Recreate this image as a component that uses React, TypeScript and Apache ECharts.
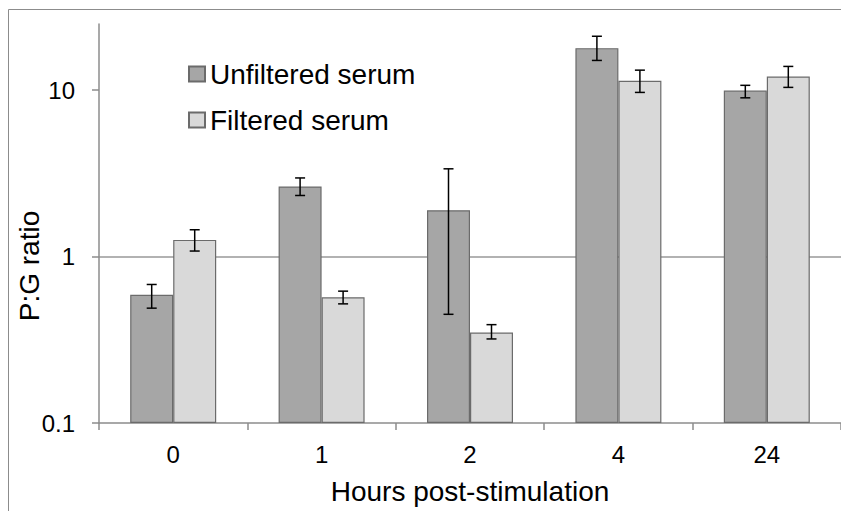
import React, { useEffect, useRef } from "react";
import * as echarts from "echarts";

const categories = ["0", "1", "2", "4", "24"];
const unfiltered = [0.59, 2.64, 1.9, 17.9, 9.95];
const unfilteredHigh = [0.68, 2.97, 3.37, 21.1, 10.7];
const unfilteredLow = [0.49, 2.33, 0.45, 15.1, 9.0];
const filtered = [1.26, 0.57, 0.35, 11.4, 12.1];
const filteredHigh = [1.45, 0.62, 0.39, 13.2, 13.9];
const filteredLow = [1.08, 0.52, 0.32, 9.7, 10.4];
const yTicks = [0.1, 1, 10];

const FONT = "'Liberation Sans', Arial, sans-serif";
const BAR_W = 43;

function errorSeries(name: string, low: number[], high: number[], offset: number) {
  return {
    name,
    type: "custom",
    z: 5,
    silent: true,
    data: categories.map((_, i) => [i, low[i], high[i]]),
    encode: { x: 0, y: [1, 2] },
    renderItem: (params: any, api: any) => {
      const i = api.value(0);
      const lo = api.coord([i, api.value(1)]);
      const hi = api.coord([i, api.value(2)]);
      const x = lo[0] + offset;
      const style = { stroke: "#000", lineWidth: 1.5 };
      return {
        type: "group",
        children: [
          { type: "line", shape: { x1: x, y1: hi[1], x2: x, y2: lo[1] }, style },
          { type: "line", shape: { x1: x - 5, y1: hi[1], x2: x + 5, y2: hi[1] }, style },
          { type: "line", shape: { x1: x - 5, y1: lo[1], x2: x + 5, y2: lo[1] }, style },
        ],
      };
    },
  };
}

export default function App() {
  const ref = useRef<HTMLDivElement>(null);
  useEffect(() => {
    if (!ref.current) return;
    const chart = echarts.init(ref.current, undefined, { renderer: "svg" });
    chart.setOption({
      animation: false,
      backgroundColor: "#fff",
      textStyle: { fontFamily: FONT },
      graphic: [
        {
          type: "rect",
          z: -10,
          shape: { x: 8.5, y: 9.5, width: 1200, height: 1200 },
          style: { fill: "none", stroke: "#8c8c8c", lineWidth: 1 },
        },
        {
          type: "text",
          x: 29,
          y: 266,
          rotation: Math.PI / 2,
          style: {
            text: "P:G ratio",
            fontSize: 28,
            fontFamily: FONT,
            fill: "#000",
            align: "center",
            verticalAlign: "middle",
          },
        },
      ],
      legend: {
        orient: "vertical",
        left: 183,
        top: 55,
        itemWidth: 16,
        itemHeight: 15,
        itemGap: 18,
        icon: "rect",
        data: ["Unfiltered serum", "Filtered serum"],
        textStyle: { fontSize: 28, lineHeight: 28, color: "#000", fontFamily: FONT, padding: [0, 0, 0, 0] },
      },
      grid: { left: 99, top: 24, right: -3, bottom: 88, containLabel: false },
      xAxis: {
        type: "category",
        data: categories,
        name: "Hours post-stimulation",
        nameLocation: "middle",
        nameGap: 54,
        nameTextStyle: { fontSize: 28, color: "#000", fontFamily: FONT },
        axisLine: { lineStyle: { color: "#8c8c8c", width: 1.5 } },
        axisTick: { show: true, length: 7, lineStyle: { color: "#8c8c8c", width: 1.5 } },
        axisLabel: { fontSize: 24, color: "#000", margin: 19, fontFamily: FONT },
        splitLine: { show: false },
      },
      yAxis: {
        type: "log",
        logBase: 10,
        min: 0.1,
        max: 25,
        startValue: 0.1,
        axisLine: { show: true, lineStyle: { color: "#8c8c8c", width: 1.5 } },
        axisTick: { show: true, length: 7, customValues: yTicks, lineStyle: { color: "#8c8c8c", width: 1.5 } },
        axisLabel: {
          fontSize: 24,
          color: "#000",
          margin: 24,
          fontFamily: FONT,
          customValues: yTicks,
          formatter: (v: number) => String(+Number(v).toPrecision(6)),
        },
        splitLine: { show: true, showMinLine: false, showMaxLine: false, lineStyle: { color: "#999", width: 1.5 } },
      },
      series: [
        {
          name: "Unfiltered serum",
          type: "bar",
          data: unfiltered,
          barWidth: BAR_W,
          barGap: "0%",
          itemStyle: { color: "#a6a6a6", borderColor: "#6b6b6b", borderWidth: 1.2 },
        },
        {
          name: "Filtered serum",
          type: "bar",
          data: filtered,
          barWidth: BAR_W,
          barGap: "0%",
          itemStyle: { color: "#d9d9d9", borderColor: "#6b6b6b", borderWidth: 1.2 },
        },
        errorSeries("err-u", unfilteredLow, unfilteredHigh, -BAR_W / 2),
        errorSeries("err-f", filteredLow, filteredHigh, BAR_W / 2),
      ],
    });
    return () => chart.dispose();
  }, []);
  return (
    <div
      ref={ref}
      style={{ position: "absolute", left: 0, top: 0, width: 841, height: 511 }}
    />
  );
}
